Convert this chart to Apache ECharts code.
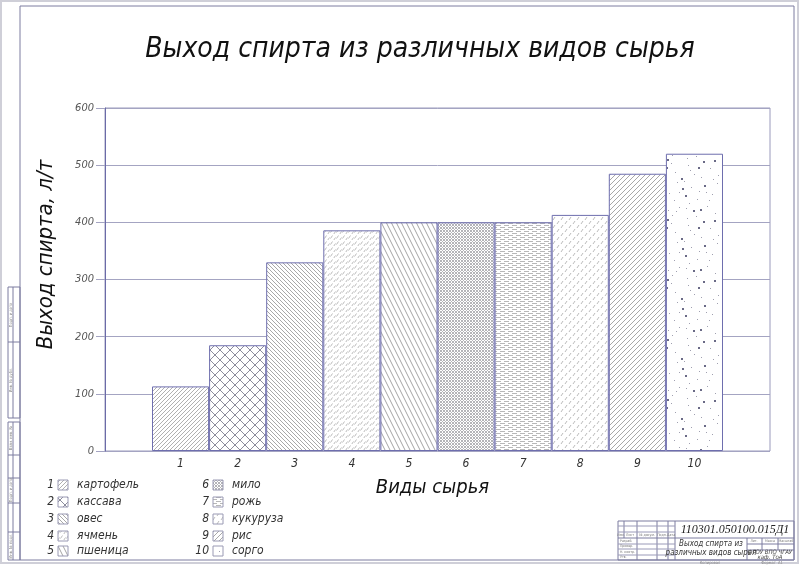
<!DOCTYPE html>
<html><head><meta charset="utf-8">
<script src="https://cdn.jsdelivr.net/npm/echarts@6/dist/echarts.min.js"></script>
<style>html,body{margin:0;padding:0;background:#fff}#c{width:800px;height:565px}</style>
</head><body><div id="c"></div>
<script>
const titleText = 'Выход спирта из различных видов сырья';
const yAxisName = 'Выход спирта, л/т';
const xAxisName = 'Виды сырья';
const categories = ['1','2','3','4','5','6','7','8','9','10'];
const materials = ['картофель','кассава','овес','ячмень','пшеница','мило','рожь','кукуруза','рис','сорго'];
const values = [113, 185, 330, 386, 400, 400, 400, 413, 485, 520];
const docCode = '110301.050100.015Д1';
const docTitle = ['Выход спирта из', 'различных видов сырья'];

const F = '"DejaVu Sans Condensed","DejaVu Sans",sans-serif';
const GRID = '#a4a4c2';
const AX = '#6b6ba8';

function tile(w, h, draw) {
  const c = document.createElement('canvas');
  c.width = w; c.height = h;
  const x = c.getContext('2d');
  x.fillStyle = '#fff'; x.fillRect(0, 0, w, h);
  x.lineWidth = 1;
  draw(x, w, h);
  return c;
}
function fwd(x, s, col) {
  x.strokeStyle = col; x.beginPath();
  x.moveTo(0, s); x.lineTo(s, 0);
  x.moveTo(-1, 1); x.lineTo(1, -1);
  x.moveTo(s - 1, s + 1); x.lineTo(s + 1, s - 1);
  x.stroke();
}
function back(x, s, col) {
  x.strokeStyle = col; x.beginPath();
  x.moveTo(0, 0); x.lineTo(s, s);
  x.moveTo(s - 1, -1); x.lineTo(s + 1, 1);
  x.moveTo(-1, s - 1); x.lineTo(1, s + 1);
  x.stroke();
}
const dotPts = [[3,4],[17,2],[31,7],[9,13],[25,15],[37,19],[5,24],[19,27],[33,30],[12,35],[27,38],[2,33],
  [22,8],[36,36],[14,20],[29,23],[7,39],[39,11],[16,31],[24,1],[44,5],[52,14],[47,26],[55,33],[43,41],
  [50,48],[58,55],[41,57],[6,47],[15,52],[28,45],[34,54],[21,58],[11,43],[57,3],[49,20],[38,47],[3,56],
  [46,12],[30,50],[54,40],[19,12],[8,30],[26,28],[40,29],[53,59]];
const patterns = [
  tile(4, 4, (x, s) => fwd(x, s, '#b0b0b0')),
  tile(10, 10, (x, s) => { fwd(x, s, '#8c8c9c'); back(x, s, '#8c8c9c'); }),
  tile(4, 4, (x, s) => back(x, s, '#a8a8a8')),
  tile(6, 6, (x) => { x.strokeStyle = '#bcbcbc'; x.beginPath(); x.moveTo(0.5, 4.5); x.lineTo(2.5, 1.5); x.moveTo(3.5, 6.5); x.lineTo(5.5, 3.5); x.stroke(); }),
  tile(5, 10, (x) => { x.strokeStyle = '#a4a4a4'; x.beginPath(); x.moveTo(0, 0); x.lineTo(5, 10); x.moveTo(-1, 8); x.lineTo(0, 10); x.moveTo(5, 0); x.lineTo(6, 2); x.stroke(); }),
  tile(3, 3, (x, s) => { fwd(x, s, '#b4b4b8'); back(x, s, '#b4b4b8'); }),
  tile(8, 4, (x) => { x.strokeStyle = '#b8b8b8'; x.beginPath(); x.moveTo(0, 1.5); x.lineTo(5, 1.5); x.moveTo(4, 3.5); x.lineTo(8, 3.5); x.moveTo(0, 3.5); x.lineTo(1, 3.5); x.stroke(); }),
  tile(8, 8, (x) => { x.strokeStyle = '#bcbcbc'; x.beginPath(); x.moveTo(1, 4); x.lineTo(3, 1); x.moveTo(5, 8); x.lineTo(7, 5); x.stroke(); }),
  tile(5, 5, (x, s) => fwd(x, s, '#a8a8a8')),
  tile(60, 60, (x) => { dotPts.forEach((p, i) => { const big = i % 4 === 0; x.fillStyle = big ? '#6a6a86' : '#a0a0b0'; x.fillRect(p[0], p[1], big ? 2 : 1, big ? 2 : 1); }); })
];

const graphics = [];
function line(x1, y1, x2, y2, c, w) { graphics.push({type: 'line', shape: {x1, y1, x2, y2}, style: {stroke: c || '#7c7ca0', lineWidth: w || 1}, silent: true}); }
function txt(x, y, t, opt) { graphics.push({type: 'text', x, y, silent: true, style: Object.assign({text: t, fill: '#222', font: 'italic 12px ' + F, textAlign: 'left', textVerticalAlign: 'middle'}, opt || {})}); }
graphics.push({type: 'rect', shape: {x: 1, y: 1, width: 797, height: 562}, style: {fill: 'none', stroke: '#cfcfd8', lineWidth: 2}, silent: true});
graphics.push({type: 'rect', shape: {x: 20, y: 6, width: 774, height: 554}, style: {fill: 'none', stroke: '#7c7ca0', lineWidth: 1}, silent: true});
graphics.push({type: 'rect', shape: {x: 8, y: 287, width: 12, height: 131}, style: {fill: 'none', stroke: '#7c7ca0'}, silent: true});
graphics.push({type: 'rect', shape: {x: 8, y: 422, width: 12, height: 138}, style: {fill: 'none', stroke: '#7c7ca0'}, silent: true});
line(13, 287, 13, 418); line(13, 422, 13, 560);
line(8, 342, 20, 342);
[455, 478, 503, 532].forEach(y => line(8, y, 20, y));
const sideLabels = [['Подп. и дата', 315], ['Инв. № дубл.', 380], ['Взам. инв. №', 438], ['Подп. и дата', 490], ['Инв. № подл.', 546]];
sideLabels.forEach(s => graphics.push({type: 'text', x: 10.5, y: s[1], rotation: Math.PI / 2, silent: true,
  style: {text: s[0], fill: '#888', font: '4px ' + F, textAlign: 'center', textVerticalAlign: 'middle'}}));

materials.forEach((m, i) => {
  const col = i < 5 ? 0 : 1;
  const row = i % 5;
  const bx = col === 0 ? 58 : 213;
  const y = [485, 502, 519, 536, 551][row];
  txt(bx - 4, y, String(i + 1), {textAlign: 'right', fill: '#333', font: 'italic 12px ' + F});
  graphics.push({type: 'rect', shape: {x: bx, y: y - 5, width: 10, height: 10}, silent: true,
    style: {fill: {image: patterns[i], repeat: 'repeat'}, stroke: '#9a9ab4', lineWidth: 1}});
  txt(bx + 19, y, m, {fill: '#333', font: 'italic 12px ' + F});
});

graphics.push({type: 'rect', shape: {x: 618, y: 521, width: 176, height: 39}, style: {fill: 'none', stroke: '#7c7ca0'}, silent: true});
line(675, 521, 675, 560);
line(618, 538, 794, 538);
[624, 637, 657, 668].forEach(x => line(x, 521, x, 538));
line(637, 538, 637, 560); line(657, 538, 657, 560); line(668, 538, 668, 560);
[526, 532].forEach(y => line(618, y, 675, y, '#9a9ab8'));
[544, 549, 555].forEach(y => line(618, y, 675, y, '#9a9ab8'));
line(747, 538, 747, 560);
line(747, 544, 794, 544); line(747, 550, 794, 550);
line(762, 538, 762, 550); line(778, 538, 778, 550);
txt(735, 530, docCode, {textAlign: 'center', font: 'italic 12px "Liberation Serif",serif', fill: '#222'});
txt(711, 544, docTitle[0], {textAlign: 'center', font: 'italic 8px ' + F, fill: '#333'});
txt(711, 553, docTitle[1], {textAlign: 'center', font: 'italic 8px ' + F, fill: '#333'});
[['Изм.', 621], ['Лист', 630], ['№ докум.', 647], ['Подп.', 662], ['Дата', 671]].forEach(c => txt(c[1], 535, c[0], {textAlign: 'center', font: '3.5px ' + F, fill: '#777'}));
[['Разраб.', 541], ['Провер.', 546], ['Н. контр.', 552], ['Утв.', 557]].forEach(c => txt(620, c[1], c[0], {font: '3.5px ' + F, fill: '#777'}));
[['Лит.', 754], ['Масса', 770], ['Масштаб', 786]].forEach(c => txt(c[1], 541, c[0], {textAlign: 'center', font: '3.5px ' + F, fill: '#777'}));
txt(770, 552, 'ФГОУ ВПО ЧГАУ', {textAlign: 'center', font: 'italic 6px ' + F, fill: '#444'});
txt(770, 557, 'каф. ТоА', {textAlign: 'center', font: 'italic 6px ' + F, fill: '#444'});
txt(710, 563, 'Копировал', {textAlign: 'center', font: '4px ' + F, fill: '#888'});
txt(772, 563, 'Формат  A1', {textAlign: 'center', font: '4px ' + F, fill: '#888'});

const chart = echarts.init(document.getElementById('c'), null, {renderer: 'canvas'});
chart.setOption({
  animation: false,
  backgroundColor: '#fff',
  title: {text: titleText, left: 415, top: 31, textAlign: 'center',
    textStyle: {fontFamily: F, fontStyle: 'italic', fontWeight: 'normal', fontSize: 28, color: '#111'}},
  grid: [
    {left: 105, right: 30, top: 108, bottom: 114, show: true, borderColor: '#9a9abc', borderWidth: 1},
    {left: 152, right: 77, top: 108, bottom: 114}
  ],
  xAxis: [
    {gridIndex: 0, type: 'value', min: 0, max: 1, show: false},
    {gridIndex: 1, type: 'category', data: categories,
      axisLine: {show: false}, axisTick: {show: false}, splitLine: {show: false},
      axisLabel: {margin: 7, color: '#333', fontFamily: F, fontStyle: 'italic', fontSize: 12},
      name: xAxisName, nameLocation: 'middle', nameGap: 27,
      nameTextStyle: {fontFamily: F, fontStyle: 'italic', fontSize: 20, color: '#111', padding: [0, 10, 0, 0]}}
  ],
  yAxis: [
    {gridIndex: 0, type: 'value', min: 0, max: 600, interval: 100,
      axisLine: {show: true, lineStyle: {color: AX, width: 1}},
      axisTick: {show: true, length: 9, lineStyle: {color: GRID}},
      splitLine: {show: true, lineStyle: {color: GRID, width: 1}},
      axisLabel: {margin: 11, color: '#555', fontFamily: F, fontStyle: 'italic', fontSize: 11},
      name: yAxisName, nameLocation: 'middle', nameGap: 48, nameRotate: 90,
      nameTextStyle: {fontFamily: F, fontStyle: 'italic', fontSize: 22, color: '#111', padding: [0, 0, 0, 50]}},
    {gridIndex: 1, type: 'value', min: 0, max: 600, show: false}
  ],
  series: [{
    type: 'bar', xAxisIndex: 1, yAxisIndex: 1, barCategoryGap: '0%',
    itemStyle: {borderColor: '#6e6eae', borderWidth: 1},
    data: values.map((v, i) => ({value: v, itemStyle: {color: {image: patterns[i], repeat: 'repeat'}}}))
  }],
  graphic: graphics
});
</script></body></html>
